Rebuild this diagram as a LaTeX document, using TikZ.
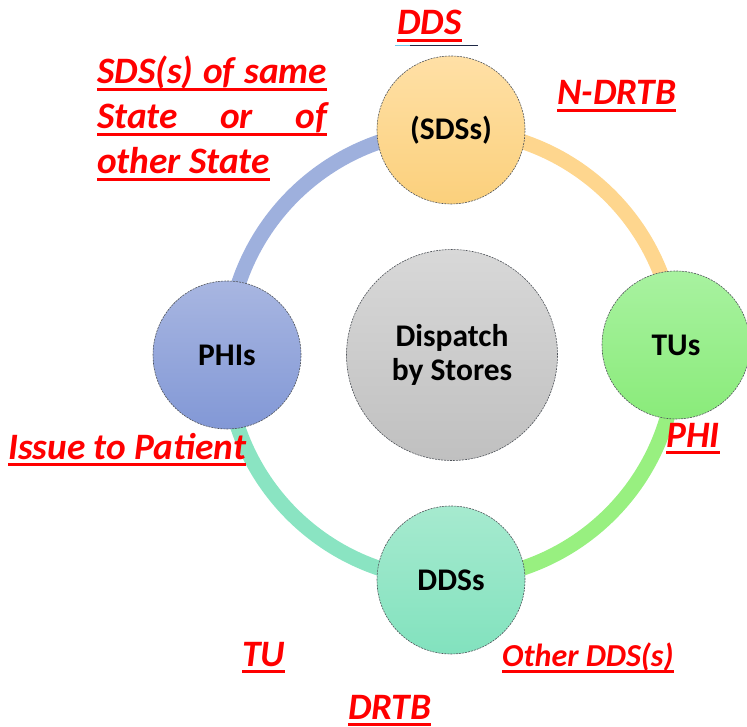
\documentclass[tikz,border=0pt]{standalone}
\usepackage{fontspec}
\setmainfont{Carlito}

% ring segment colours (one per source node)
\definecolor{ringblue}{RGB}{158,176,221}
\definecolor{ringorange}{RGB}{254,214,142}
\definecolor{ringgreen}{RGB}{152,240,128}
\definecolor{ringteal}{RGB}{138,228,194}
% node gradients
\definecolor{sdsTop}{RGB}{255,224,166}
\definecolor{sdsBot}{RGB}{251,208,124}
\definecolor{tuTop}{RGB}{168,242,160}
\definecolor{tuBot}{RGB}{138,235,122}
\definecolor{ddsTop}{RGB}{166,234,207}
\definecolor{ddsBot}{RGB}{130,226,190}
\definecolor{phiTop}{RGB}{168,182,225}
\definecolor{phiBot}{RGB}{130,152,214}
\definecolor{hubTop}{RGB}{216,216,216}
\definecolor{hubBot}{RGB}{192,192,192}
\definecolor{rimgray}{RGB}{80,84,90}
\definecolor{navyrule}{RGB}{30,40,70}
\definecolor{labelred}{RGB}{255,0,0}

% underlined red label text
\newsavebox\ulbox
\newcommand\redul[1]{\sbox\ulbox{#1}\rlap{\color{labelred}\rule[-7pt]{\wd\ulbox}{3pt}}\usebox\ulbox}

\begin{document}
\begin{tikzpicture}[x=1pt,y=-1pt,
  ring/.style={line width=15pt},
  station/.style={circle, minimum size=148pt, inner sep=0pt,
    draw=rimgray, line width=0.6pt, dash pattern=on 2pt off 1pt,
    font=\fontsize{31.5}{34}\selectfont\bfseries, text=black},
  hub/.style={station, minimum size=211pt, align=center},
  redlabel/.style={anchor=base west, inner sep=0pt, text=labelred,
    font=\fontsize{37.3}{40}\selectfont\bfseries\itshape},
]
\useasboundingbox (0,0) rectangle (747,727);

% stations on the ring
\coordinate (sdsC) at (451,130);
\coordinate (tuC)  at (676,345);
\coordinate (ddsC) at (451,580);
\coordinate (phiC) at (227,355);

% ring segments, each coloured after the station it leaves
\draw[ring, ringblue]   (phiC) arc[start angle=180, end angle=90, radius=225pt];
\draw[ring, ringorange] (sdsC) arc[start angle=90, end angle=2.5, radius=225pt];
\draw[ring, ringgreen]  (tuC)  arc[start angle=2.5, end angle=-90, radius=225pt];
\draw[ring, ringteal]   (ddsC) arc[start angle=-90, end angle=-180, radius=225pt];

\node[station, top color=sdsTop, bottom color=sdsBot] (sds) at (sdsC) {(SDSs)};
\node[station, top color=tuTop,  bottom color=tuBot]  (tu)  at (tuC)  {TUs};
\node[station, top color=ddsTop, bottom color=ddsBot] (dds) at (ddsC) {DDSs};
\node[station, top color=phiTop, bottom color=phiBot] (phi) at (phiC) {PHIs};
\node[hub, top color=hubTop, bottom color=hubBot] (hub) at (452,355) {Dispatch\\by Stores};

% red labels
\node[redlabel] (lblDDS) at (397,35) {\redul{DDS}};
\coordinate (ruleA) at (395,46);
\coordinate (ruleB) at (410,46);
\coordinate (ruleC) at (478,46);
\draw[line width=1pt, ringblue!70!cyan] (ruleA) -- (ruleB);
\draw[line width=1pt, navyrule] (ruleB) -- (ruleC);

\node[redlabel] (lblNDRTB) at (557,105) {\redul{N-DRTB}};
\node[redlabel] (lblSDS1) at (97,84)  {\redul{\makebox[230pt][s]{SDS(s)\hfill of\hfill same}}};
\node[redlabel] (lblSDS2) at (97,129) {\redul{\makebox[230pt][s]{State\hfill or\hfill of}}};
\node[redlabel] (lblSDS3) at (97,174) {\redul{other State}};
\node[redlabel] (lblIssue) at (8,459) {\redul{Issue to Patient}};
\node[redlabel] (lblPHI) at (666,447) {\redul{PHI}};
\node[redlabel] (lblTU) at (242,666) {\redul{TU}};
\node[redlabel, font=\fontsize{32}{36}\selectfont\bfseries\itshape] (lblOther) at (502,666) {\redul{Other DDS(s)}};
\node[redlabel] (lblDRTB) at (348,719) {\redul{DRTB}};
\end{tikzpicture}
\end{document}
